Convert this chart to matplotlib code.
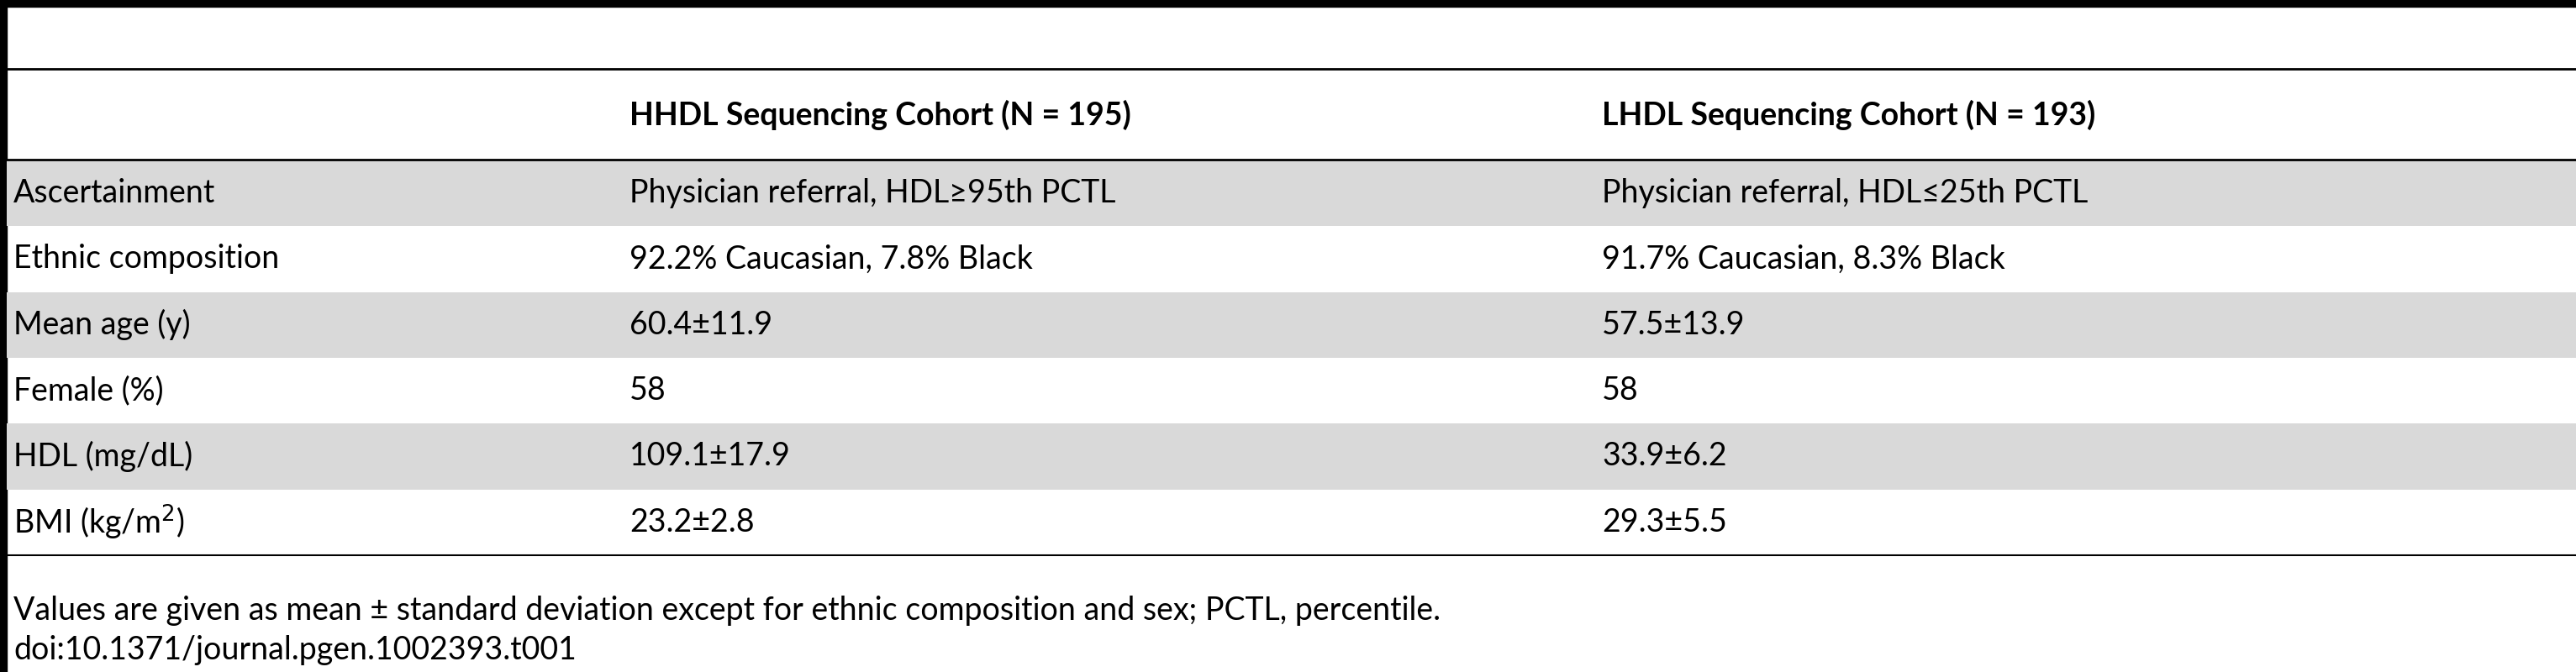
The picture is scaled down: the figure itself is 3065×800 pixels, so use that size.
import matplotlib
matplotlib.use("Agg")
import matplotlib.pyplot as plt
from matplotlib.patches import Rectangle

headers = ["", "HHDL Sequencing Cohort (N = 195)", "LHDL Sequencing Cohort (N = 193)"]
row_labels = ["Ascertainment", "Ethnic composition", "Mean age (y)", "Female (%)",
              "HDL (mg/dL)", "BMI (kg/m$^2$)"]
hhdl = ["Physician referral, HDL\u226595th PCTL", "92.2% Caucasian, 7.8% Black",
        "60.4\u00b111.9", "58", "109.1\u00b117.9", "23.2\u00b12.8"]
lhdl = ["Physician referral, HDL\u226425th PCTL", "91.7% Caucasian, 8.3% Black",
        "57.5\u00b113.9", "58", "33.9\u00b16.2", "29.3\u00b15.5"]
footnotes = ["Values are given as mean \u00b1 standard deviation except for ethnic composition and sex; PCTL, percentile.",
             "doi:10.1371/journal.pgen.1002393.t001"]

W, H = 3065, 800
fig = plt.figure(figsize=(W/100, H/100), dpi=100)
ax = fig.add_axes([0, 0, 1, 1])
ax.set_xlim(0, W); ax.set_ylim(H, 0); ax.axis("off")
FONT = ["Lato", "DejaVu Sans"]
fs = 27
colx = [16, 749, 1906]

# left bar and top thick line
ax.add_patch(Rectangle((0, 0), 8, H, color="black"))
ax.add_patch(Rectangle((0, 0), W, 8, color="black"))
ax.plot([8, W], [82, 82], color="black", lw=2)

ax.text(colx[1], 137, headers[1], fontsize=fs, fontweight="bold", family=FONT, va="center")
ax.text(colx[2], 137, headers[2], fontsize=fs, fontweight="bold", family=FONT, va="center")
ax.plot([8, W], [190, 190], color="black", lw=2)

top, rh = 191, 78.3
for i, lab in enumerate(row_labels):
    y0 = top + i*rh
    if i % 2 == 0:
        ax.add_patch(Rectangle((8, y0), W-8, rh, color="#d9d9d9", lw=0))
    yc = y0 + rh/2
    ax.text(colx[0], yc, lab, fontsize=fs, family=FONT, va="center")
    ax.text(colx[1], yc, hhdl[i], fontsize=fs, family=FONT, va="center")
    ax.text(colx[2], yc, lhdl[i], fontsize=fs, family=FONT, va="center")
ax.plot([8, W], [661, 661], color="black", lw=1.5)

ax.text(colx[0], 727, footnotes[0], fontsize=fs, family=FONT, va="center")
ax.text(colx[0], 774, footnotes[1], fontsize=fs, family=FONT, va="center")
fig.savefig("out.png", dpi=100)
